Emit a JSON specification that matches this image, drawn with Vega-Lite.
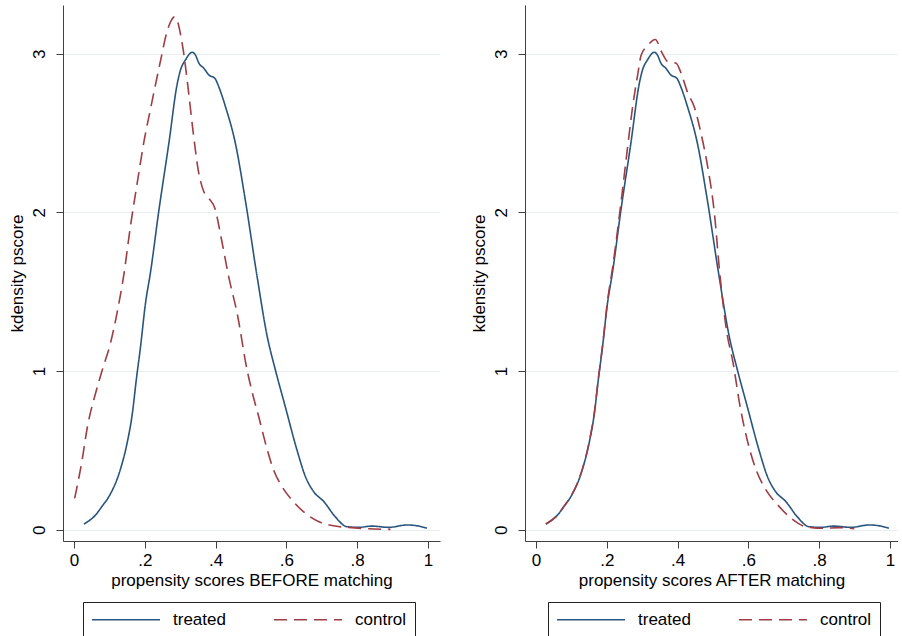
{
  "$schema": "https://vega.github.io/schema/vega-lite/v6.json",
  "padding": {"left": 8, "top": 5, "right": 0, "bottom": 0},
  "background": "white",
  "spacing": 30,
  "config": {
    "view": {"stroke": null},
    "font": "Liberation Sans",
    "axis": {
      "labelFont": "Liberation Sans", "titleFont": "Liberation Sans",
      "labelFontSize": 17, "titleFontSize": 17, "titleFontWeight": "normal",
      "labelColor": "black", "titleColor": "black",
      "domainColor": "#404040", "tickColor": "#404040",
      "tickSize": 7, "domainWidth": 1, "tickWidth": 1
    },
    "legend": {
      "labelFont": "Liberation Sans", "labelFontSize": 17, "labelColor": "black",
      "strokeColor": "#202020", "fillColor": "white", "strokeWidth": 1
    }
  },
  "datasets": {
    "d": [
      {"panel": "before", "group": "treated", "x": 0.028, "y": 0.036},
      {"panel": "before", "group": "treated", "x": 0.061, "y": 0.093},
      {"panel": "before", "group": "treated", "x": 0.080, "y": 0.150},
      {"panel": "before", "group": "treated", "x": 0.099, "y": 0.210},
      {"panel": "before", "group": "treated", "x": 0.132, "y": 0.387},
      {"panel": "before", "group": "treated", "x": 0.150, "y": 0.545},
      {"panel": "before", "group": "treated", "x": 0.165, "y": 0.734},
      {"panel": "before", "group": "treated", "x": 0.176, "y": 0.944},
      {"panel": "before", "group": "treated", "x": 0.188, "y": 1.153},
      {"panel": "before", "group": "treated", "x": 0.202, "y": 1.427},
      {"panel": "before", "group": "treated", "x": 0.216, "y": 1.620},
      {"panel": "before", "group": "treated", "x": 0.240, "y": 2.015},
      {"panel": "before", "group": "treated", "x": 0.268, "y": 2.435},
      {"panel": "before", "group": "treated", "x": 0.292, "y": 2.814},
      {"panel": "before", "group": "treated", "x": 0.301, "y": 2.898},
      {"panel": "before", "group": "treated", "x": 0.315, "y": 2.961},
      {"panel": "before", "group": "treated", "x": 0.334, "y": 3.009},
      {"panel": "before", "group": "treated", "x": 0.343, "y": 2.992},
      {"panel": "before", "group": "treated", "x": 0.353, "y": 2.940},
      {"panel": "before", "group": "treated", "x": 0.367, "y": 2.908},
      {"panel": "before", "group": "treated", "x": 0.381, "y": 2.866},
      {"panel": "before", "group": "treated", "x": 0.398, "y": 2.845},
      {"panel": "before", "group": "treated", "x": 0.409, "y": 2.792},
      {"panel": "before", "group": "treated", "x": 0.428, "y": 2.666},
      {"panel": "before", "group": "treated", "x": 0.456, "y": 2.435},
      {"panel": "before", "group": "treated", "x": 0.484, "y": 2.078},
      {"panel": "before", "group": "treated", "x": 0.517, "y": 1.600},
      {"panel": "before", "group": "treated", "x": 0.546, "y": 1.217},
      {"panel": "before", "group": "treated", "x": 0.569, "y": 1.007},
      {"panel": "before", "group": "treated", "x": 0.597, "y": 0.775},
      {"panel": "before", "group": "treated", "x": 0.630, "y": 0.502},
      {"panel": "before", "group": "treated", "x": 0.654, "y": 0.334},
      {"panel": "before", "group": "treated", "x": 0.677, "y": 0.240},
      {"panel": "before", "group": "treated", "x": 0.706, "y": 0.177},
      {"panel": "before", "group": "treated", "x": 0.738, "y": 0.082},
      {"panel": "before", "group": "treated", "x": 0.771, "y": 0.019},
      {"panel": "before", "group": "treated", "x": 0.804, "y": 0.015},
      {"panel": "before", "group": "treated", "x": 0.842, "y": 0.023},
      {"panel": "before", "group": "treated", "x": 0.889, "y": 0.015},
      {"panel": "before", "group": "treated", "x": 0.941, "y": 0.030},
      {"panel": "before", "group": "treated", "x": 0.974, "y": 0.023},
      {"panel": "before", "group": "treated", "x": 0.997, "y": 0.009},

      {"panel": "before", "group": "control", "x": 0.002, "y": 0.198},
      {"panel": "before", "group": "control", "x": 0.023, "y": 0.439},
      {"panel": "before", "group": "control", "x": 0.038, "y": 0.649},
      {"panel": "before", "group": "control", "x": 0.061, "y": 0.860},
      {"panel": "before", "group": "control", "x": 0.080, "y": 1.007},
      {"panel": "before", "group": "control", "x": 0.103, "y": 1.175},
      {"panel": "before", "group": "control", "x": 0.122, "y": 1.370},
      {"panel": "before", "group": "control", "x": 0.141, "y": 1.610},
      {"panel": "before", "group": "control", "x": 0.160, "y": 1.920},
      {"panel": "before", "group": "control", "x": 0.179, "y": 2.190},
      {"panel": "before", "group": "control", "x": 0.198, "y": 2.450},
      {"panel": "before", "group": "control", "x": 0.216, "y": 2.650},
      {"panel": "before", "group": "control", "x": 0.244, "y": 2.950},
      {"panel": "before", "group": "control", "x": 0.263, "y": 3.140},
      {"panel": "before", "group": "control", "x": 0.275, "y": 3.210},
      {"panel": "before", "group": "control", "x": 0.284, "y": 3.232},
      {"panel": "before", "group": "control", "x": 0.293, "y": 3.200},
      {"panel": "before", "group": "control", "x": 0.302, "y": 3.110},
      {"panel": "before", "group": "control", "x": 0.310, "y": 3.003},
      {"panel": "before", "group": "control", "x": 0.323, "y": 2.772},
      {"panel": "before", "group": "control", "x": 0.336, "y": 2.519},
      {"panel": "before", "group": "control", "x": 0.351, "y": 2.267},
      {"panel": "before", "group": "control", "x": 0.367, "y": 2.130},
      {"panel": "before", "group": "control", "x": 0.381, "y": 2.089},
      {"panel": "before", "group": "control", "x": 0.398, "y": 2.026},
      {"panel": "before", "group": "control", "x": 0.417, "y": 1.826},
      {"panel": "before", "group": "control", "x": 0.437, "y": 1.595},
      {"panel": "before", "group": "control", "x": 0.461, "y": 1.364},
      {"panel": "before", "group": "control", "x": 0.489, "y": 1.007},
      {"panel": "before", "group": "control", "x": 0.503, "y": 0.870},
      {"panel": "before", "group": "control", "x": 0.522, "y": 0.712},
      {"panel": "before", "group": "control", "x": 0.541, "y": 0.545},
      {"panel": "before", "group": "control", "x": 0.564, "y": 0.376},
      {"panel": "before", "group": "control", "x": 0.588, "y": 0.271},
      {"panel": "before", "group": "control", "x": 0.616, "y": 0.187},
      {"panel": "before", "group": "control", "x": 0.654, "y": 0.103},
      {"panel": "before", "group": "control", "x": 0.692, "y": 0.050},
      {"panel": "before", "group": "control", "x": 0.738, "y": 0.023},
      {"panel": "before", "group": "control", "x": 0.785, "y": 0.013},
      {"panel": "before", "group": "control", "x": 0.833, "y": 0.006},
      {"panel": "before", "group": "control", "x": 0.894, "y": 0.002},

      {"panel": "after", "group": "treated", "x": 0.028, "y": 0.036},
      {"panel": "after", "group": "treated", "x": 0.061, "y": 0.093},
      {"panel": "after", "group": "treated", "x": 0.080, "y": 0.150},
      {"panel": "after", "group": "treated", "x": 0.099, "y": 0.210},
      {"panel": "after", "group": "treated", "x": 0.132, "y": 0.387},
      {"panel": "after", "group": "treated", "x": 0.150, "y": 0.545},
      {"panel": "after", "group": "treated", "x": 0.165, "y": 0.734},
      {"panel": "after", "group": "treated", "x": 0.176, "y": 0.944},
      {"panel": "after", "group": "treated", "x": 0.188, "y": 1.153},
      {"panel": "after", "group": "treated", "x": 0.202, "y": 1.427},
      {"panel": "after", "group": "treated", "x": 0.216, "y": 1.620},
      {"panel": "after", "group": "treated", "x": 0.240, "y": 2.015},
      {"panel": "after", "group": "treated", "x": 0.268, "y": 2.435},
      {"panel": "after", "group": "treated", "x": 0.292, "y": 2.814},
      {"panel": "after", "group": "treated", "x": 0.301, "y": 2.898},
      {"panel": "after", "group": "treated", "x": 0.315, "y": 2.961},
      {"panel": "after", "group": "treated", "x": 0.334, "y": 3.009},
      {"panel": "after", "group": "treated", "x": 0.343, "y": 2.992},
      {"panel": "after", "group": "treated", "x": 0.353, "y": 2.940},
      {"panel": "after", "group": "treated", "x": 0.367, "y": 2.908},
      {"panel": "after", "group": "treated", "x": 0.381, "y": 2.866},
      {"panel": "after", "group": "treated", "x": 0.398, "y": 2.845},
      {"panel": "after", "group": "treated", "x": 0.409, "y": 2.792},
      {"panel": "after", "group": "treated", "x": 0.428, "y": 2.666},
      {"panel": "after", "group": "treated", "x": 0.456, "y": 2.435},
      {"panel": "after", "group": "treated", "x": 0.484, "y": 2.078},
      {"panel": "after", "group": "treated", "x": 0.517, "y": 1.600},
      {"panel": "after", "group": "treated", "x": 0.546, "y": 1.217},
      {"panel": "after", "group": "treated", "x": 0.569, "y": 1.007},
      {"panel": "after", "group": "treated", "x": 0.597, "y": 0.775},
      {"panel": "after", "group": "treated", "x": 0.630, "y": 0.502},
      {"panel": "after", "group": "treated", "x": 0.654, "y": 0.334},
      {"panel": "after", "group": "treated", "x": 0.677, "y": 0.240},
      {"panel": "after", "group": "treated", "x": 0.706, "y": 0.177},
      {"panel": "after", "group": "treated", "x": 0.738, "y": 0.082},
      {"panel": "after", "group": "treated", "x": 0.771, "y": 0.019},
      {"panel": "after", "group": "treated", "x": 0.804, "y": 0.015},
      {"panel": "after", "group": "treated", "x": 0.842, "y": 0.023},
      {"panel": "after", "group": "treated", "x": 0.889, "y": 0.015},
      {"panel": "after", "group": "treated", "x": 0.941, "y": 0.030},
      {"panel": "after", "group": "treated", "x": 0.974, "y": 0.023},
      {"panel": "after", "group": "treated", "x": 0.997, "y": 0.009},

      {"panel": "after", "group": "control", "x": 0.028, "y": 0.036},
      {"panel": "after", "group": "control", "x": 0.061, "y": 0.093},
      {"panel": "after", "group": "control", "x": 0.080, "y": 0.150},
      {"panel": "after", "group": "control", "x": 0.099, "y": 0.212},
      {"panel": "after", "group": "control", "x": 0.132, "y": 0.390},
      {"panel": "after", "group": "control", "x": 0.150, "y": 0.550},
      {"panel": "after", "group": "control", "x": 0.165, "y": 0.740},
      {"panel": "after", "group": "control", "x": 0.176, "y": 0.950},
      {"panel": "after", "group": "control", "x": 0.188, "y": 1.160},
      {"panel": "after", "group": "control", "x": 0.202, "y": 1.440},
      {"panel": "after", "group": "control", "x": 0.217, "y": 1.660},
      {"panel": "after", "group": "control", "x": 0.241, "y": 2.078},
      {"panel": "after", "group": "control", "x": 0.259, "y": 2.414},
      {"panel": "after", "group": "control", "x": 0.273, "y": 2.666},
      {"panel": "after", "group": "control", "x": 0.288, "y": 2.877},
      {"panel": "after", "group": "control", "x": 0.297, "y": 2.990},
      {"panel": "after", "group": "control", "x": 0.315, "y": 3.050},
      {"panel": "after", "group": "control", "x": 0.337, "y": 3.090},
      {"panel": "after", "group": "control", "x": 0.355, "y": 3.010},
      {"panel": "after", "group": "control", "x": 0.372, "y": 2.950},
      {"panel": "after", "group": "control", "x": 0.396, "y": 2.940},
      {"panel": "after", "group": "control", "x": 0.410, "y": 2.877},
      {"panel": "after", "group": "control", "x": 0.429, "y": 2.751},
      {"panel": "after", "group": "control", "x": 0.447, "y": 2.666},
      {"panel": "after", "group": "control", "x": 0.466, "y": 2.499},
      {"panel": "after", "group": "control", "x": 0.485, "y": 2.288},
      {"panel": "after", "group": "control", "x": 0.504, "y": 1.994},
      {"panel": "after", "group": "control", "x": 0.519, "y": 1.620},
      {"panel": "after", "group": "control", "x": 0.538, "y": 1.259},
      {"panel": "after", "group": "control", "x": 0.557, "y": 1.049},
      {"panel": "after", "group": "control", "x": 0.575, "y": 0.797},
      {"panel": "after", "group": "control", "x": 0.599, "y": 0.545},
      {"panel": "after", "group": "control", "x": 0.622, "y": 0.376},
      {"panel": "after", "group": "control", "x": 0.650, "y": 0.250},
      {"panel": "after", "group": "control", "x": 0.683, "y": 0.156},
      {"panel": "after", "group": "control", "x": 0.721, "y": 0.072},
      {"panel": "after", "group": "control", "x": 0.763, "y": 0.019},
      {"panel": "after", "group": "control", "x": 0.810, "y": 0.009},
      {"panel": "after", "group": "control", "x": 0.857, "y": 0.013},
      {"panel": "after", "group": "control", "x": 0.899, "y": 0.006}
    ]
  },
  "hconcat": [
    {
      "width": 377,
      "height": 536,
      "data": {"name": "d"},
      "transform": [{"filter": "datum.panel == 'before'"}],
      "mark": {"type": "line", "strokeWidth": 1.6, "clip": true, "interpolate": "monotone"},
      "encoding": {
        "x": {
          "field": "x", "type": "quantitative",
          "scale": {"domain": [-0.031, 1.034], "nice": false, "zero": false},
          "axis": {
            "values": [0, 0.2, 0.4, 0.6, 0.8, 1],
            "labelExpr": "datum.value == 0 ? '0' : datum.value == 1 ? '1' : replace(format(datum.value, '.1f'), '0.', '.')",
            "title": "propensity scores BEFORE matching",
            "grid": false, "labelPadding": 4, "titlePadding": 4
          }
        },
        "y": {
          "field": "y", "type": "quantitative",
          "scale": {"domain": [-0.071, 3.307], "nice": false, "zero": false},
          "axis": {
            "values": [0, 1, 2, 3], "labelAngle": -90,
            "title": "kdensity pscore",
            "grid": true, "gridColor": "#e6eef0", "labelPadding": 8, "titlePadding": 4
          }
        },
        "color": {
          "field": "group", "type": "nominal",
          "scale": {"domain": ["treated", "control"], "range": ["#28557d", "#9e3d44"]},
          "legend": {
            "orient": "none", "legendX": 20, "legendY": 597, "direction": "horizontal",
            "title": null, "symbolType": "M-1,0H7", "symbolSize": 289, "symbolStrokeWidth": 1.6,
            "labelOffset": 63, "columnPadding": 44, "padding": 8
          }
        },
        "strokeDash": {
          "field": "group", "type": "nominal",
          "scale": {"domain": ["treated", "control"], "range": [[1, 0], [13, 7]]},
          "legend": {
            "orient": "none", "legendX": 20, "legendY": 597, "direction": "horizontal",
            "title": null, "symbolType": "M-1,0H7", "symbolSize": 289, "symbolStrokeWidth": 1.6,
            "labelOffset": 63, "columnPadding": 44, "padding": 8
          }
        }
      }
    },
    {
      "width": 373,
      "height": 536,
      "data": {"name": "d"},
      "transform": [{"filter": "datum.panel == 'after'"}],
      "mark": {"type": "line", "strokeWidth": 1.6, "clip": true, "interpolate": "monotone"},
      "encoding": {
        "x": {
          "field": "x", "type": "quantitative",
          "scale": {"domain": [-0.031, 1.0226], "nice": false, "zero": false},
          "axis": {
            "values": [0, 0.2, 0.4, 0.6, 0.8, 1],
            "labelExpr": "datum.value == 0 ? '0' : datum.value == 1 ? '1' : replace(format(datum.value, '.1f'), '0.', '.')",
            "title": "propensity scores AFTER matching",
            "grid": false, "labelPadding": 4, "titlePadding": 4
          }
        },
        "y": {
          "field": "y", "type": "quantitative",
          "scale": {"domain": [-0.071, 3.307], "nice": false, "zero": false},
          "axis": {
            "values": [0, 1, 2, 3], "labelAngle": -90,
            "title": "kdensity pscore",
            "grid": true, "gridColor": "#e6eef0", "labelPadding": 8, "titlePadding": 4
          }
        },
        "color": {
          "field": "group", "type": "nominal",
          "scale": {"domain": ["treated", "control"], "range": ["#28557d", "#9e3d44"]},
          "legend": {
            "orient": "none", "legendX": 23, "legendY": 597, "direction": "horizontal",
            "title": null, "symbolType": "M-1,0H7", "symbolSize": 289, "symbolStrokeWidth": 1.6,
            "labelOffset": 63, "columnPadding": 44, "padding": 8
          }
        },
        "strokeDash": {
          "field": "group", "type": "nominal",
          "scale": {"domain": ["treated", "control"], "range": [[1, 0], [13, 7]]},
          "legend": {
            "orient": "none", "legendX": 23, "legendY": 597, "direction": "horizontal",
            "title": null, "symbolType": "M-1,0H7", "symbolSize": 289, "symbolStrokeWidth": 1.6,
            "labelOffset": 63, "columnPadding": 44, "padding": 8
          }
        }
      }
    }
  ],
  "resolve": {"scale": {"color": "independent", "strokeDash": "independent"}, "legend": {"color": "independent", "strokeDash": "independent"}}
}
